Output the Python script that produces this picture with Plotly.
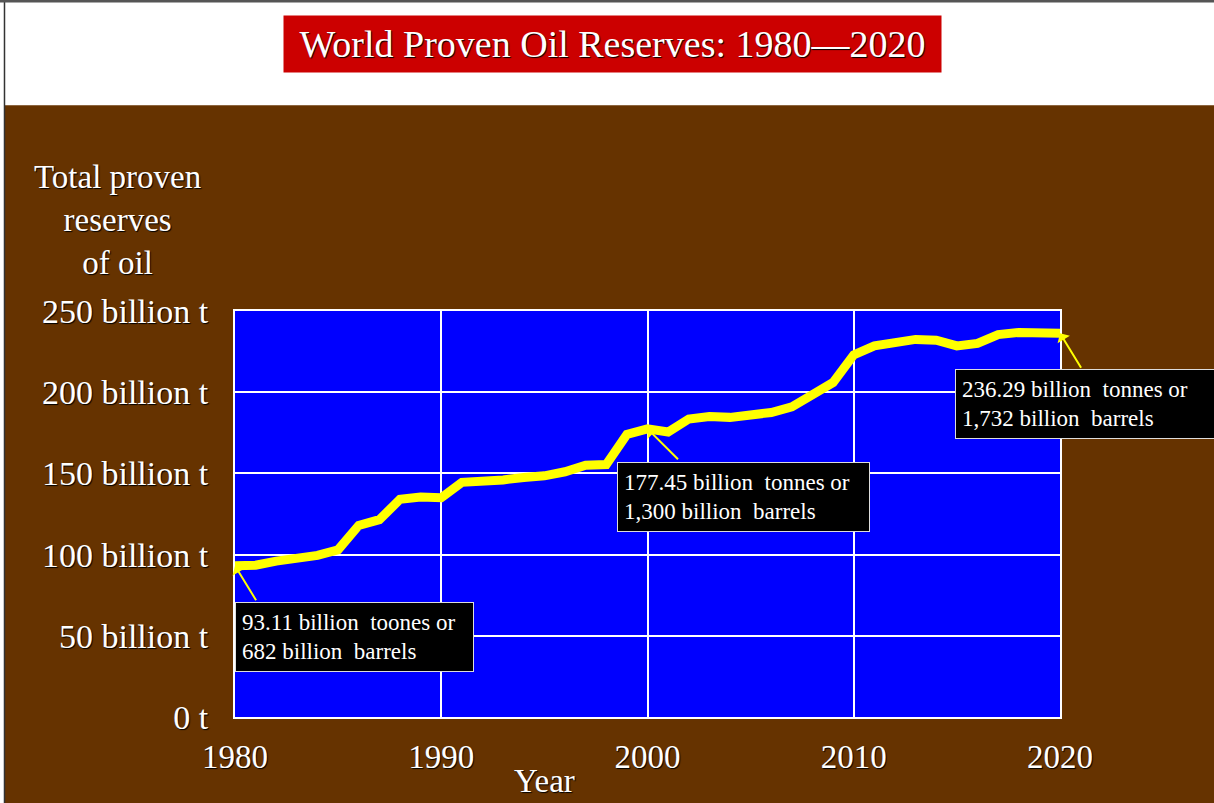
"""World proven oil reserves 1980-2020, slide-style line chart."""

import plotly.graph_objects as go

# data
years = [1980, 1981, 1982, 1983, 1984, 1985, 1986, 1987, 1988, 1989,
         1990, 1991, 1992, 1993, 1994, 1995, 1996, 1997, 1998, 1999,
         2000, 2001, 2002, 2003, 2004, 2005, 2006, 2007, 2008, 2009,
         2010, 2011, 2012, 2013, 2014, 2015, 2016, 2017, 2018, 2019,
         2020]
reserves_bt = [93.11, 93.5, 96.0, 97.5, 99.5, 103.0, 118.0, 121.5, 134.0, 135.5,
               135.0, 144.5, 145.0, 146.0, 147.5, 148.5, 151.0, 155.0, 155.5, 174.0,
               177.45, 175.5, 183.5, 185.0, 184.5, 186.0, 187.5, 191.0, 198.0, 206.0,
               223.0, 228.5, 230.5, 232.5, 232.0, 228.5, 230.0, 235.5, 236.8, 236.7,
               236.29]

y_tickvals = [0, 50, 100, 150, 200, 250]
y_ticktext = ["0 t", "50 billion t", "100 billion t", "150 billion t",
              "200 billion t", "250 billion t"]
x_tickvals = [1980, 1990, 2000, 2010, 2020]

callout_years = [1980, 2000, 2020]
callout_values = [93.11, 177.45, 236.29]
callout_texts = [
    "93.11 billion  toones or<br>682 billion  barrels",
    "177.45 billion  tonnes or<br>1,300 billion  barrels",
    "236.29 billion  tonnes or<br>1,732 billion  barrels",
]

SERIF = "Liberation Serif, Times New Roman, serif"
BROWN = "#663300"
SHADOW = "1px 1px 1px #000000"

fig = go.Figure()
fig.add_trace(go.Scatter(
    x=years, y=reserves_bt, mode="lines",
    line=dict(color="#FFFF00", width=9),
    hoverinfo="x+y", showlegend=False,
))

# arrows from each callout box to its point
arrow_offsets = [(22, 36), (32, 32), (22, 36)]
for yr, val, (ax, ay) in zip(callout_years, callout_values, arrow_offsets):
    fig.add_annotation(
        x=yr, y=val, xref="x", yref="y", text="", showarrow=True,
        ax=ax, ay=ay, arrowcolor="#FFFF00", arrowwidth=2,
        arrowhead=1, arrowsize=1.2, standoff=0,
    )

# callout boxes (paper coords, top-left anchored)
box_pos = [(0.0, 0.283), (0.463, 0.628), (0.873, 0.857)]
box_w = [225, 239, 249]
for (bx, by), txt, w in zip(box_pos, callout_texts, box_w):
    fig.add_annotation(
        x=bx, y=by, xref="paper", yref="paper", xanchor="left", yanchor="top",
        text=txt, showarrow=False, align="left", width=w, height=56,
        bgcolor="#000000", bordercolor="#DDDDDD", borderwidth=1, borderpad=6,
        font=dict(family=SERIF, size=23, color="white"),
    )

# title banner
fig.add_annotation(
    x=0.4576, y=1.6576, xref="paper", yref="paper",
    xanchor="center", yanchor="middle", showarrow=False,
    text="World Proven Oil Reserves: 1980\u20142020",
    width=657, height=56, borderpad=0, bgcolor="#CC0000",
    font=dict(family=SERIF, size=38, color="white", shadow=SHADOW),
)

# y-axis title, horizontal, above the tick labels
fig.add_annotation(
    x=-0.143, y=1.069, xref="paper", yref="paper",
    xanchor="center", yanchor="bottom", showarrow=False,
    text="Total proven<br>reserves<br>of oil",
    font=dict(family=SERIF, size=33, color="white", shadow=SHADOW),
)

# x-axis title
fig.add_annotation(
    x=0.375, y=-0.158, xref="paper", yref="paper",
    xanchor="center", yanchor="middle", showarrow=False,
    text="Year",
    font=dict(family=SERIF, size=33, color="white", shadow=SHADOW),
)

# white header band above the brown slide body
fig.add_shape(type="rect", xref="paper", yref="paper",
              x0=-0.3, x1=1.2, y0=1.507, y1=1.8,
              fillcolor="white", line=dict(width=0), layer="below")
# thin frame bits on the slide's top and left edges
fig.add_shape(type="rect", xref="paper", yref="paper",
              x0=-0.3, x1=-0.2800, y0=-0.3, y1=1.8,
              fillcolor="white", line=dict(width=0), layer="below")
fig.add_shape(type="line", xref="paper", yref="paper",
              x0=-0.2794, x1=-0.2794, y0=-0.3, y1=1.8,
              line=dict(color="#333333", width=1.5))
fig.add_shape(type="line", xref="paper", yref="paper",
              x0=-0.3, x1=1.2, y0=1.7635, y1=1.7635,
              line=dict(color="#555555", width=3))

fig.update_xaxes(
    range=[1980, 2020], tickvals=x_tickvals,
    showgrid=True, gridcolor="white", gridwidth=2,
    showline=True, mirror=True, linecolor="white", linewidth=2,
    zeroline=False, ticks="", ticklabelstandoff=9,
    tickfont=dict(family=SERIF, size=33, color="white", shadow=SHADOW),
)
fig.update_yaxes(
    range=[0, 250], tickvals=y_tickvals, ticktext=y_ticktext,
    showgrid=True, gridcolor="white", gridwidth=2,
    showline=True, mirror=True, linecolor="white", linewidth=2,
    zeroline=False, ticks="", ticklabelstandoff=18,
    tickfont=dict(family=SERIF, size=34, color="white", shadow=SHADOW),
)

fig.update_layout(
    width=1214, height=803,
    margin=dict(l=235, r=154, t=311, b=86),
    paper_bgcolor=BROWN, plot_bgcolor="#0000FF",
    showlegend=False,
)

# drop the default page margin so the figure sits at the window's corner
fig.write_html("out.html", config={"displayModeBar": False},
               post_script="document.body.style.margin='0';")
